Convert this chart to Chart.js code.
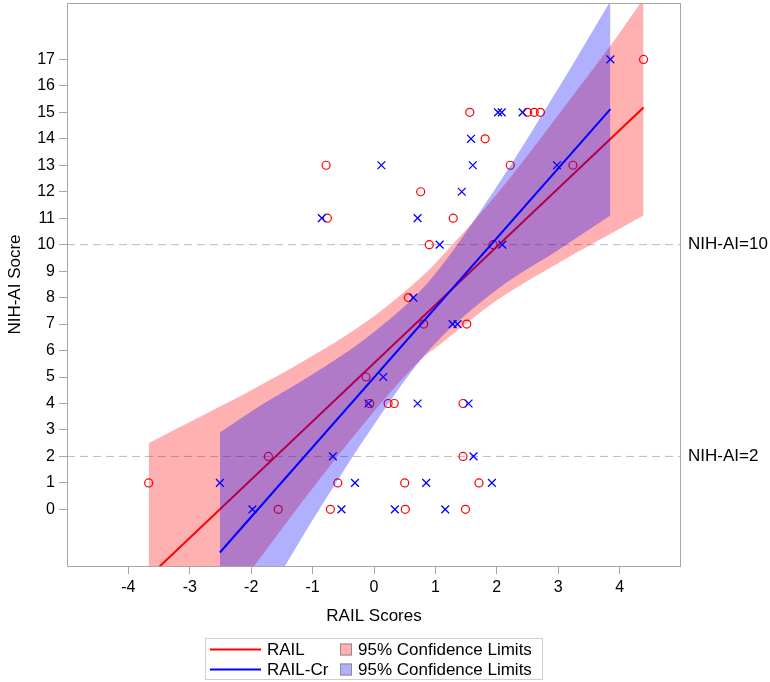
<!DOCTYPE html>
<html>
<head>
<meta charset="utf-8">
<script src="https://cdn.jsdelivr.net/npm/chart.js@4.4.1/dist/chart.umd.min.js"></script>
<style>
  html, body { margin: 0; padding: 0; background: #fff; }
  #wrap { width: 770px; height: 682px; }
</style>
</head>
<body>
<div id="wrap"><canvas id="railChart" width="770" height="682"></canvas></div>
<script>
// RAIL scores vs NIH-AI score (red circles)
const railX = [4.39, 1.56, 2.50, 2.61, 2.71, 1.81, -0.78, 2.22, 3.24, 0.76, -0.76, 1.29, 0.90, 1.94,
    0.56, 0.81, 1.51, -0.13, -0.07, 0.23, 0.33, 1.45, -1.72, 1.45, -3.67, -0.59, 0.50, 1.71,
    -1.56, -0.71, 0.51, 1.49];
const railY = [17, 15, 15, 15, 15, 14, 13, 13, 13, 12, 11, 11, 10, 10,
    8, 7, 7, 5, 4, 4, 4, 4, 2, 2, 1, 1, 1, 1,
    0, 0, 0, 0];

// RAIL-Cr scores vs NIH-AI score (blue crosses)
const crX = [3.85, 2.02, 2.08, 2.42, 1.58, 0.12, 1.61, 2.98, 1.43, -0.85, 0.71, 1.07, 2.09,
    0.64, 1.28, 1.36, 0.15, -0.09, 0.71, 1.54, -0.67, 1.62, -2.51, -0.31, 0.85, 1.92,
    -1.98, -0.53, 0.34, 1.16];
const crY = [17, 15, 15, 15, 14, 13, 13, 13, 12, 11, 11, 10, 10,
    8, 7, 7, 5, 4, 4, 4, 2, 2, 1, 1, 1, 1,
    0, 0, 0, 0];

// fitted lines (end points)
const railFitX = [-3.67, 4.39];
const railFitY = [-2.55, 15.18];
const crFitX = [-2.51, 3.85];
const crFitY = [-1.63, 15.12];

// 95% confidence limits
const railBandX = [-3.67, -3, -2, -1, 0, 0.83, 1, 2, 3, 4, 4.39];
const railUpper = [2.5, 3.3, 4.5, 5.8, 7.3, 8.9, 9.3, 11.9, 14.9, 18.0, 19.3];
const railLower = [-7.6, -5.5, -2.3, 0.8, 3.7, 5.8, 6.1, 7.9, 9.3, 10.6, 11.1];
const crBandX = [-2.51, -2, -1, 0, 0.89, 2, 3, 3.85];
const crUpper = [2.9, 3.7, 5.1, 6.7, 8.6, 12.2, 15.9, 19.2];
const crLower = [-6.2, -4.3, -0.4, 3.2, 6.0, 8.3, 9.8, 11.1];

const xTicks = [-4, -3, -2, -1, 0, 1, 2, 3, 4];
const yTicks = [0, 1, 2, 3, 4, 5, 6, 7, 8, 9, 10, 11, 12, 13, 14, 15, 16, 17];
const refLines = [2, 10];
const xRange = [-5, 5];
const yRange = [-2.14, 19.13];

const FONT = 'Liberation Sans, Arial, sans-serif';
const AXIS_GREY = '#a6a6a6';
const RED_FILL = 'rgba(255,0,0,0.31)';
const BLUE_FILL = 'rgba(0,0,255,0.31)';

Chart.defaults.font.family = FONT;
Chart.defaults.color = '#000';

function pts(xs, ys) {
    return xs.map((x, i) => ({ x: x, y: ys[i] }));
}

function bandEdge(xs, ys, fill, color, order) {
    return {
        data: pts(xs, ys),
        borderColor: 'transparent',
        borderWidth: 0,
        pointRadius: 0,
        fill: fill,
        backgroundColor: color,
        cubicInterpolationMode: 'monotone',
        clip: 0,
        order: order
    };
}

// no extra room for half tick labels at the ends of an axis
function noEndPadding(s) {
    s.paddingTop = 0;
    s.paddingBottom = 0;
    s.paddingLeft = 0;
    s.paddingRight = 0;
}

const refSets = refLines.map(v => ({
    data: pts(xRange, [v, v]),
    borderColor: '#b9b9b9',
    borderWidth: 1,
    borderDash: [8, 5],
    pointRadius: 0,
    fill: false,
    order: 20
}));

// frame around plot + boxed legend under the x axis
const framePlugin = {
    id: 'frameAndLegend',
    afterDraw(chart) {
        const ctx = chart.ctx;
        const a = chart.chartArea;
        ctx.save();
        ctx.strokeStyle = AXIS_GREY;
        ctx.lineWidth = 1;
        ctx.strokeRect(Math.round(a.left) + 0.5, Math.round(a.top) + 0.5,
            Math.round(a.right - a.left) - 1, Math.round(a.bottom - a.top));

        // legend
        ctx.strokeStyle = '#cfcfcf';
        ctx.strokeRect(205.5, 638.5, 337, 41);
        const rows = [
            { label: 'RAIL', line: '#ff0000', fill: RED_FILL, y: 649.5 },
            { label: 'RAIL-Cr', line: '#0000ff', fill: BLUE_FILL, y: 669.5 }
        ];
        ctx.font = '17px ' + FONT;
        ctx.textBaseline = 'middle';
        rows.forEach(r => {
            ctx.strokeStyle = r.line;
            ctx.lineWidth = 2;
            ctx.beginPath();
            ctx.moveTo(210, r.y);
            ctx.lineTo(261, r.y);
            ctx.stroke();
            ctx.fillStyle = '#000';
            ctx.fillText(r.label, 267, r.y + 1);
            ctx.fillStyle = r.fill;
            ctx.fillRect(340, r.y - 6, 12, 12);
            ctx.strokeStyle = '#8c8c8c';
            ctx.lineWidth = 1;
            ctx.strokeRect(340.5, r.y - 5.5, 11, 11);
            ctx.fillStyle = '#000';
            ctx.fillText('95% Confidence Limits', 358, r.y + 1);
        });
        ctx.restore();
    }
};

const ctx = document.getElementById('railChart').getContext('2d');
window.railChart = new Chart(ctx, {
    type: 'line',
    data: {
        datasets: [
            ...refSets,
            bandEdge(railBandX, railLower, false, 'transparent', 9),
            bandEdge(railBandX, railUpper, '-1', RED_FILL, 8),
            {
                data: pts(railFitX, railFitY),
                borderColor: '#ff0000',
                borderWidth: 2,
                pointRadius: 0,
                fill: false,
                clip: 0,
                order: 7
            },
            {
                data: pts(railX, railY),
                showLine: false,
                pointStyle: 'circle',
                pointRadius: 4,
                pointBorderWidth: 1.2,
                pointBorderColor: '#ff0000',
                pointBackgroundColor: 'transparent',
                order: 6
            },
            bandEdge(crBandX, crLower, false, 'transparent', 5),
            bandEdge(crBandX, crUpper, '-1', BLUE_FILL, 4),
            {
                data: pts(crFitX, crFitY),
                borderColor: '#0000ff',
                borderWidth: 2,
                pointRadius: 0,
                fill: false,
                clip: 0,
                order: 3
            },
            {
                data: pts(crX, crY),
                showLine: false,
                pointStyle: 'crossRot',
                pointRadius: 5.5,
                pointBorderWidth: 1.3,
                pointBorderColor: '#0000ff',
                pointBackgroundColor: 'transparent',
                order: 2
            }
        ]
    },
    options: {
        responsive: false,
        animation: false,
        events: [],
        layout: { autoPadding: false, padding: { top: 3, bottom: 54, left: 0, right: 0 } },
        plugins: {
            legend: { display: false },
            tooltip: { enabled: false }
        },
        scales: {
            x: {
                type: 'linear',
                min: xRange[0],
                max: xRange[1],
                afterBuildTicks: s => { s.ticks = xTicks.map(v => ({ value: v })); },
                afterFit: s => { s.height = 62; noEndPadding(s); },
                grid: { drawOnChartArea: false, drawTicks: true, tickLength: 8, color: AXIS_GREY },
                border: { display: false },
                ticks: { autoSkip: false, maxRotation: 0, padding: 4, color: '#000', font: { size: 16 } },
                title: { display: true, text: 'RAIL Scores', color: '#000', font: { size: 17 }, padding: { top: 0, bottom: 1 } }
            },
            y: {
                type: 'linear',
                position: 'left',
                min: yRange[0],
                max: yRange[1],
                afterBuildTicks: s => { s.ticks = yTicks.map(v => ({ value: v })); },
                afterFit: s => { s.width = 67; noEndPadding(s); },
                grid: { drawOnChartArea: false, drawTicks: true, tickLength: 8, color: AXIS_GREY },
                border: { display: false },
                ticks: { autoSkip: false, padding: 4, color: '#000', font: { size: 16 } },
                title: { display: true, text: 'NIH-AI Socre', color: '#000', font: { size: 17 }, padding: { top: 5, bottom: 0 } }
            },
            y2: {
                type: 'linear',
                position: 'right',
                min: yRange[0],
                max: yRange[1],
                afterBuildTicks: s => { s.ticks = refLines.map(v => ({ value: v })); },
                afterFit: s => { s.width = 89; noEndPadding(s); },
                grid: { display: false, drawTicks: false },
                border: { display: false },
                ticks: {
                    autoSkip: false,
                    padding: 7,
                    color: '#000',
                    font: { size: 17 },
                    callback: v => 'NIH-AI=' + v
                }
            }
        }
    },
    plugins: [framePlugin]
});
</script>
</body>
</html>
